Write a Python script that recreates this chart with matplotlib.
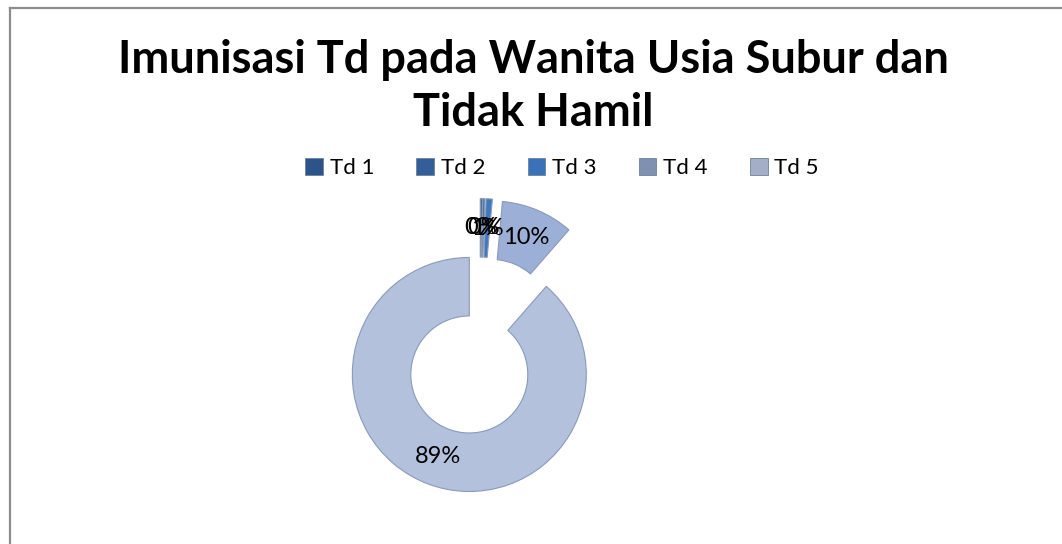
import matplotlib
matplotlib.use("Agg")
import matplotlib.pyplot as plt
from matplotlib.patches import Patch
from matplotlib.lines import Line2D

# data
labels = ["Td 1", "Td 2", "Td 3", "Td 4", "Td 5"]
values = [1, 1, 3, 35, 310]
colors = ["#2E5A8C", "#3566A0", "#3F78BE", "#9CAFD6", "#B3C1DD"]
legend_colors = ["#2C5488", "#325F98", "#3A72B8", "#7F90B0", "#A4AEC6"]
title_lines = ["Imunisasi Td pada Wanita Usia Subur dan", "Tidak Hamil"]

plt.rcParams["font.family"] = ["Lato", "DejaVu Sans"]

W, H = 1062, 544
fig = plt.figure(figsize=(W / 100, H / 100), dpi=100)

# bingkai chart (hanya atas dan kiri yang terlihat)
fig.add_artist(Line2D([9.5 / W, 9.5 / W], [0, 1 - 7.5 / H], color="#8c8c8c", lw=1.6))
fig.add_artist(Line2D([9.5 / W, 1], [1 - 7.5 / H, 1 - 7.5 / H], color="#8c8c8c", lw=1.6))

# judul, dua baris
for i, line in enumerate(title_lines):
    fig.text(533 / W, 1 - (73 + 53 * i) / H, line, ha="center", va="baseline",
             fontsize=32.5, fontweight="bold")

# doughnut
r_px = 117
cx, cy = 480, 346
span = 1.5
size = 2 * span * r_px
ax = fig.add_axes([(cx - size / 2) / W, (H - cy - size / 2) / H, size / W, size / H])
wedges, texts, autotexts = ax.pie(
    values, colors=colors, startangle=90, counterclock=False,
    explode=[0.26] * len(values), radius=1,
    wedgeprops=dict(width=0.5, edgecolor="#8a9ab8", linewidth=0.8),
    autopct="%.0f%%", pctdistance=0.75,
    textprops=dict(fontsize=17, color="black"),
)
ax.set_xlim(-span, span)
ax.set_ylim(-span, span)
ax.set_aspect("equal")
ax.axis("off")

handles = [Patch(facecolor=c, edgecolor="#6f7f9f", linewidth=0.6) for c in legend_colors]
fig.legend(handles, labels, loc="center", bbox_to_anchor=(562 / W, 1 - 168 / H),
           ncol=5, frameon=False, fontsize=16, handlelength=0.8, handleheight=0.8,
           handletextpad=0.3, columnspacing=1.9)

fig.savefig("out.png", dpi=100, facecolor="white")
